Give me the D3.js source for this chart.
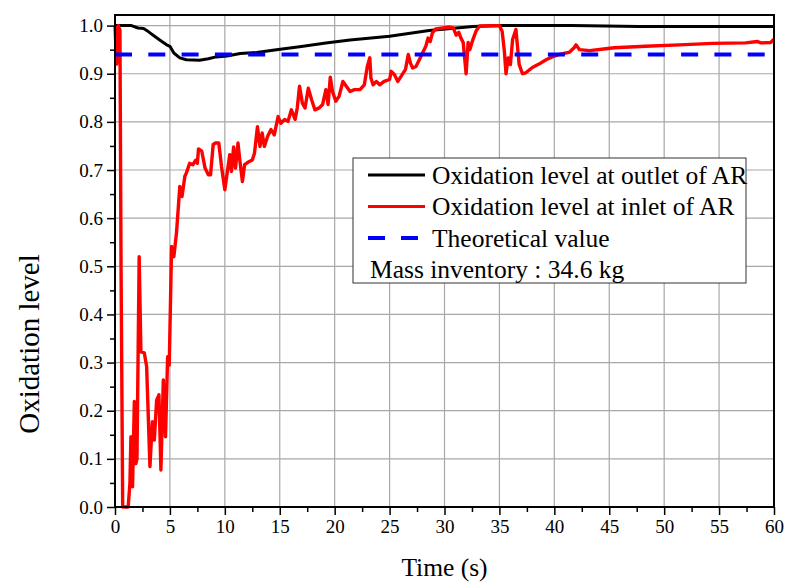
<!DOCTYPE html>
<html>
<head>
<meta charset="utf-8">
<script src="https://cdn.jsdelivr.net/npm/d3@7"></script>
<style>
  body { margin: 0; background: #fff; }
  svg { display: block; font-family: "Liberation Serif", "Times New Roman", serif; }
</style>
</head>
<body>
<svg id="chart"></svg>
<script>
// time (s) and oxidation level at the outlet of AR (black)
const timeOutlet = [0, 1.5, 2.1, 2.6, 3.0, 3.6, 4.2, 4.7, 5.0, 5.36, 5.9, 6.5, 7.7, 8.5, 9.2, 10.2, 11.4, 12.9, 14.7, 16.8, 19.2, 21.4, 25, 28.6, 32.6, 35, 37, 41.6, 47.7, 60];
const outlet = [1.0, 1.0, 0.995, 0.994, 0.988, 0.978, 0.968, 0.96, 0.957, 0.943, 0.933, 0.929, 0.928, 0.931, 0.935, 0.937, 0.942, 0.944, 0.95, 0.956, 0.964, 0.97, 0.978, 0.99, 0.998, 1.0, 1.0, 1.0, 0.998, 0.998];

// time (s) and oxidation level at the inlet of AR (red)
const timeInlet = [0, 0.15, 0.3, 0.45, 0.55, 0.7, 1.2, 1.36, 1.45, 1.6, 1.76, 1.9, 2.0, 2.2, 2.36, 2.67, 2.88, 3.18, 3.4, 3.58, 3.79, 4.0, 4.18, 4.4, 4.6, 4.79, 4.94,
  5.15, 5.36, 5.6, 5.9, 6.1, 6.36, 6.5, 6.8, 7.1, 7.33, 7.5, 7.6, 7.9, 8.2, 8.5, 8.7, 8.94, 9.15, 9.45, 9.7, 10.0, 10.25, 10.45, 10.6, 10.8, 10.97,
  11.2, 11.36, 11.6, 11.8, 12.1, 12.5, 12.7, 12.97, 13.2, 13.4, 13.6, 13.9, 14.2, 14.5, 14.85, 15.1, 15.45, 15.75, 16.06, 16.4, 16.6, 16.8,
  17.06, 17.3, 17.6, 17.9, 18.2, 18.6, 18.9, 19.2, 19.4, 19.6, 19.8, 20.1, 20.4, 20.75, 21.06, 21.4, 21.8, 22.3, 22.7, 22.97, 23.2, 23.3,
  23.5, 23.8, 24.1, 24.5, 25.0, 25.15, 25.45, 25.75, 26.06, 26.45, 26.7, 26.9, 27.1, 27.4, 27.8, 28.0, 28.3, 28.5, 28.7, 28.9, 29.2,
  29.85, 30.45, 30.8, 31.06, 31.3, 31.5, 31.7, 31.97, 32.15, 32.3, 32.6, 32.9, 33.2, 35.0, 35.25, 35.45, 35.6, 35.8, 36.0, 36.2, 36.5,
  36.8, 37.1, 37.4, 38.0, 38.6, 39.25, 39.7, 40.45, 41.4, 41.8, 41.97, 42.3, 43.2, 44.7, 45.45, 48.3, 51.4, 54.4, 57.4, 58.5, 58.8, 59.7, 60];
const inlet = [1.0, 0.92, 1.0, 0.99, 0.5, 0.0, 0.0, 0.05, 0.146, 0.042, 0.219, 0.09, 0.1, 0.52, 0.322, 0.32, 0.292, 0.084, 0.177, 0.139, 0.222, 0.233, 0.077, 0.264, 0.146, 0.312, 0.295,
  0.541, 0.52, 0.57, 0.666, 0.645, 0.687, 0.694, 0.714, 0.711, 0.72, 0.714, 0.744, 0.739, 0.704, 0.69, 0.69, 0.753, 0.756, 0.756, 0.707, 0.659, 0.70, 0.732, 0.697, 0.748, 0.704,
  0.756, 0.721, 0.676, 0.711, 0.716, 0.721, 0.735, 0.79, 0.749, 0.777, 0.749, 0.77, 0.784, 0.773, 0.811, 0.797, 0.805, 0.801, 0.825, 0.805, 0.83, 0.874,
  0.839, 0.829, 0.87, 0.846, 0.825, 0.829, 0.836, 0.867, 0.836, 0.893, 0.863, 0.843, 0.853, 0.884, 0.874, 0.863, 0.867, 0.867, 0.877, 0.915, 0.933, 0.891,
  0.877, 0.884, 0.877, 0.884, 0.888, 0.905, 0.898, 0.884, 0.895, 0.909, 0.94, 0.922, 0.912, 0.915, 0.933, 0.943, 0.957, 0.974, 0.967, 0.985, 0.993,
  0.995, 0.997, 0.995, 0.98, 0.986, 0.974, 0.965, 0.9, 0.965, 0.95, 0.972, 0.99, 0.999, 1.0, 0.988, 0.947, 0.9, 0.933, 0.919, 0.971, 0.992,
  0.919, 0.9, 0.902, 0.913, 0.92, 0.929, 0.934, 0.94, 0.945, 0.954, 0.96, 0.95, 0.948, 0.952, 0.954, 0.957, 0.96, 0.963, 0.964, 0.967, 0.964, 0.965, 0.972];

// theoretical oxidation level (blue dashed)
const theoreticalTime = [0, 60];
const theoretical = [0.94, 0.94];

const xTicks = d3.range(0, 61, 5);
const xMinorTicks = d3.range(2.5, 60, 5);
const yTicks = d3.range(0, 11).map(d => d / 10);
const yMinorTicks = d3.range(0, 10).map(d => d / 10 + 0.05);

const legendLabels = ["Oxidation level at outlet of AR", "Oxidation level at inlet of AR", "Theoretical value"];
const legendColors = ["#000", "#ff0000", "#0000ff"];
const legendNote = "Mass inventory : 34.6 kg";

const svg_size = {width: 785, height: 583};
const margin = {top: 15, right: 11, bottom: 76, left: 115};
const plot_width = svg_size.width - margin.left - margin.right;
const plot_height = svg_size.height - margin.top - margin.bottom;
const serif = "'Liberation Serif', 'Times New Roman', serif";

const svg = d3.select("#chart")
    .attr("width", svg_size.width)
    .attr("height", svg_size.height);
const plot = svg.append("g")
    .attr("transform", `translate(${margin.left},${margin.top})`);

const x = d3.scaleLinear().domain([0, 60]).range([0, plot_width]);
const y = d3.scaleLinear().domain([0, 1.022]).range([plot_height, 0]);

// grid
plot.append("g")
    .selectAll("line")
    .data(xTicks.slice(1, -1))
    .join("line")
    .attr("x1", d => x(d)).attr("x2", d => x(d))
    .attr("y1", 0).attr("y2", plot_height)
    .attr("stroke", "#a8a8a8").attr("stroke-width", 1.2);
plot.append("g")
    .selectAll("line")
    .data(yTicks.slice(1))
    .join("line")
    .attr("x1", 0).attr("x2", plot_width)
    .attr("y1", d => y(d)).attr("y2", d => y(d))
    .attr("stroke", "#a8a8a8").attr("stroke-width", 1.2);

// series
const zip = (ts, vs) => ts.map((t, i) => ({t: t, v: vs[i]}));
const line = d3.line().x(d => x(d.t)).y(d => y(d.v));

plot.append("path")
    .datum(zip(timeOutlet, outlet))
    .attr("fill", "none")
    .attr("stroke", "#000")
    .attr("stroke-width", 3)
    .attr("stroke-linejoin", "round")
    .attr("d", line);
plot.append("path")
    .datum(zip(timeInlet, inlet))
    .attr("fill", "none")
    .attr("stroke", "#ff0000")
    .attr("stroke-width", 3.4)
    .attr("stroke-linejoin", "round")
    .attr("d", line);
plot.append("path")
    .datum(zip(theoreticalTime, theoretical))
    .attr("fill", "none")
    .attr("stroke", "#0000ff")
    .attr("stroke-width", 4)
    .attr("stroke-dasharray", "17,16.3")
    .attr("d", line);

// axes
plot.append("g")
    .attr("transform", `translate(0,${plot_height})`)
    .call(d3.axisBottom(x).tickValues(xTicks).tickSize(8).tickPadding(5).tickFormat(d3.format("d")));
plot.append("g")
    .attr("transform", `translate(0,${plot_height})`)
    .call(d3.axisBottom(x).tickValues(xMinorTicks).tickSize(5).tickFormat(""));
plot.append("g")
    .call(d3.axisLeft(y).tickValues(yTicks).tickSize(8).tickPadding(4).tickFormat(d3.format(".1f")));
plot.append("g")
    .call(d3.axisLeft(y).tickValues(yMinorTicks).tickSize(5).tickFormat(""));

plot.selectAll(".domain").remove();
plot.selectAll("g").filter(function() { return this.hasAttribute("font-family"); })
    .attr("font-family", serif)
    .attr("font-size", 19);
plot.selectAll(".tick line").attr("stroke", "#000").attr("stroke-width", 1.5);
plot.selectAll(".tick text").attr("fill", "#000");

// frame
plot.append("rect")
    .attr("x", 0).attr("y", 0)
    .attr("width", plot_width).attr("height", plot_height)
    .attr("fill", "none")
    .attr("stroke", "#000")
    .attr("stroke-width", 2);

// axis titles
svg.append("text")
    .attr("x", margin.left + plot_width / 2)
    .attr("y", 576)
    .attr("text-anchor", "middle")
    .attr("font-family", serif)
    .attr("font-size", 25.5)
    .text("Time (s)");
svg.append("text")
    .attr("transform", "translate(39,344) rotate(-90)")
    .attr("text-anchor", "middle")
    .attr("font-family", serif)
    .attr("font-size", 29)
    .text("Oxidation level");

// legend
const legend = svg.append("g").attr("transform", "translate(353,158)");
legend.append("rect")
    .attr("width", 393).attr("height", 125)
    .attr("fill", "#fff")
    .attr("stroke", "#333")
    .attr("stroke-width", 1);
const rowH = 31.5;
legendLabels.forEach((label, i) => {
    const cy = 17 + i * rowH;
    legend.append("line")
        .attr("x1", 15).attr("x2", 72)
        .attr("y1", cy).attr("y2", cy)
        .attr("stroke", legendColors[i])
        .attr("stroke-width", i === 2 ? 4 : 3)
        .attr("stroke-dasharray", i === 2 ? "17,16" : null);
    legend.append("text")
        .attr("x", 79).attr("y", cy + 8.5)
        .attr("font-family", serif)
        .attr("font-size", 25.5)
        .text(label);
});
legend.append("text")
    .attr("x", 17).attr("y", 17 + 3 * rowH + 8.5)
    .attr("font-family", serif)
    .attr("font-size", 25.5)
    .text(legendNote);
</script>
</body>
</html>
